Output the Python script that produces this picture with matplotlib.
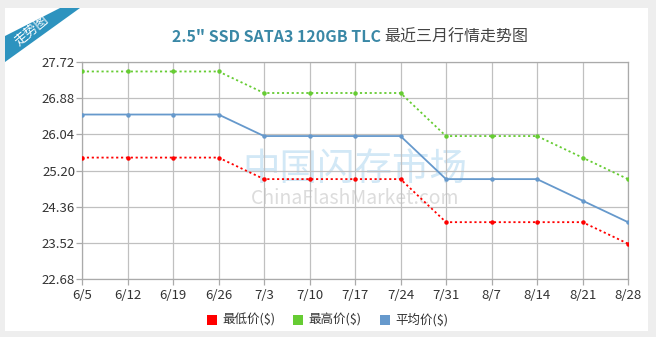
import matplotlib
matplotlib.use("Agg")
import matplotlib.pyplot as plt
from matplotlib.patches import Rectangle, Polygon
import numpy as np

plt.rcParams['font.family'] = ['Noto Sans CJK SC', 'DejaVu Sans']

dates = ["6/5", "6/12", "6/19", "6/26", "7/3", "7/10", "7/17", "7/24",
         "7/31", "8/7", "8/14", "8/21", "8/28"]
low = [25.5, 25.5, 25.5, 25.5, 25.0, 25.0, 25.0, 25.0, 24.0, 24.0, 24.0, 24.0, 23.5]
high = [27.5, 27.5, 27.5, 27.5, 27.0, 27.0, 27.0, 27.0, 26.0, 26.0, 26.0, 25.5, 25.0]
avg = [26.5, 26.5, 26.5, 26.5, 26.0, 26.0, 26.0, 26.0, 25.0, 25.0, 25.0, 24.5, 24.0]
yticks = [22.68, 23.52, 24.36, 25.20, 26.04, 26.88, 27.72]
series_names = ["最低价($)", "最高价($)", "平均价($)"]

W, H = 656, 337
fig = plt.figure(figsize=(W / 100, H / 100), dpi=100)
fig.patch.set_facecolor("#eeeeee")

def fx(x):
    return x / W

def fy(y):
    return 1 - y / H

# white card
fig.patches.append(Rectangle((fx(5), fy(331)), fx(643), 323 / H, transform=fig.transFigure,
                             facecolor="white", edgecolor="none", zorder=-2))
# ribbon
ribbon = [(5, 36), (60, 8), (80, 8), (5, 62)]
fig.patches.append(Polygon([(fx(x), fy(y)) for x, y in ribbon], closed=True,
                           transform=fig.transFigure, facecolor="#2d93bf",
                           edgecolor="none", zorder=-1))
fig.text(fx(32), fy(31), "走势图", rotation=40, color="white", fontsize=9.5,
         ha="center", va="center", rotation_mode="anchor")

# title
fig.text(fx(381), fy(37), '2.5" SSD SATA3 120GB TLC', color="#3a88a6", fontsize=11.5,
         fontweight="bold", ha="right", va="center")
fig.text(fx(384), fy(37), "最近三月行情走势图", color="#444444", fontsize=11.5,
         ha="left", va="center")

ax = fig.add_axes([fx(82), fy(279), fx(628 - 82), (279 - 62) / H])
ax.set_zorder(5)
ax.set_facecolor("white")
x = np.arange(len(dates))

# watermark
ax.text(0.5, 0.50, "中国闪存市场", transform=ax.transAxes, fontsize=27,
        color="#d2e8f6", ha="center", va="center", zorder=0.5)
ax.text(0.5, 0.37, "ChinaFlashMarket.com", transform=ax.transAxes, fontsize=14,
        color="#dcdcdc", ha="center", va="center", style="italic", zorder=0.5)

ax.plot(x, high, color="#66cc33", linestyle=(0, (1.2, 1.5)), linewidth=1.3,
        marker="o", markersize=2.2, zorder=3)
ax.plot(x, avg, color="#6699cc", linestyle="-", linewidth=1.3,
        marker="o", markersize=2.2, zorder=3)
ax.plot(x, low, color="#ff0000", linestyle=(0, (1.2, 1.5)), linewidth=1.3,
        marker="o", markersize=2.2, zorder=3)

ax.set_xlim(0, len(dates) - 1)
ax.set_ylim(yticks[0], yticks[-1])
ax.set_xticks(x)
ax.set_xticklabels(dates)
ax.set_yticks(yticks)
ax.set_yticklabels([f"{v:.2f}" for v in yticks])
ax.grid(True, color="#c0c0c0", linewidth=0.9)
ax.set_axisbelow(True)
for s in ax.spines.values():
    s.set_color("#aaaaaa")
    s.set_linewidth(0.9)
ax.tick_params(axis="both", colors="#aaaaaa", labelcolor="#333333", labelsize=9.5,
               length=4, width=0.9)
ax.tick_params(axis="x", pad=3)
ax.tick_params(axis="y", pad=1)

# legend
colors = ["#ff0000", "#66cc33", "#6699cc"]
leg_x = [212, 298, 385]
for lx, c, name in zip(leg_x, colors, series_names):
    fig.patches.append(Rectangle((fx(lx - 5), fy(325)), fx(10), 10 / H,
                                 transform=fig.transFigure, facecolor=c,
                                 edgecolor="none", zorder=2))
    fig.text(fx(lx + 10), fy(320), name, fontsize=9, color="#333333",
             ha="left", va="center")

fig.savefig("out.png", dpi=100, facecolor=fig.get_facecolor())
